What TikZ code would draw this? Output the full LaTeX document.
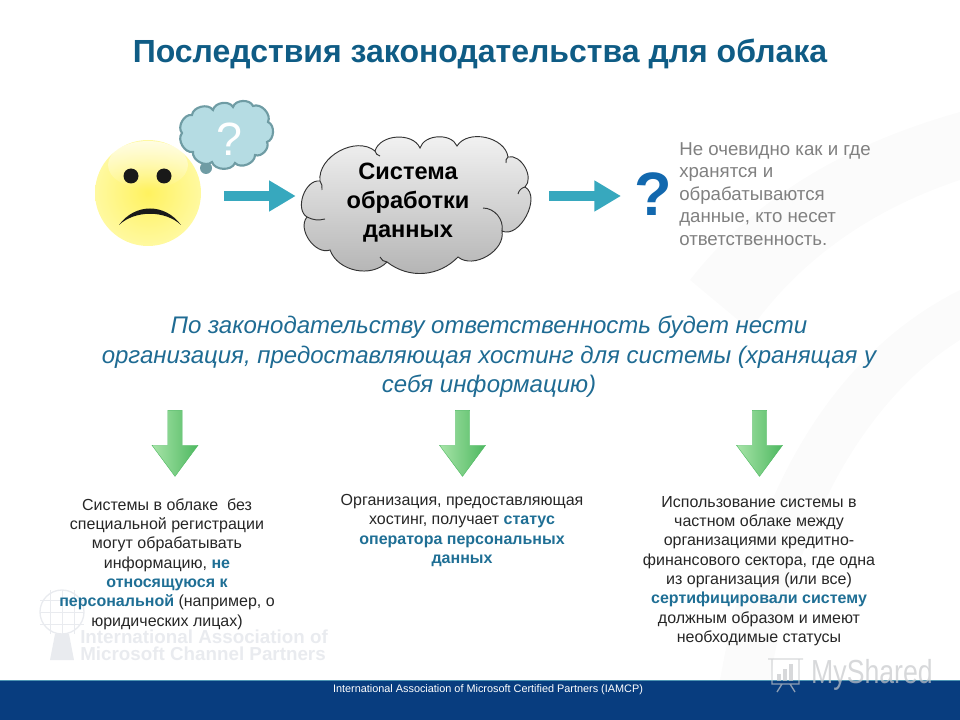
\documentclass[tikz,border=0pt]{standalone}
\usepackage{fontspec}
\setmainfont{Liberation Sans}
\usetikzlibrary{positioning, arrows.meta, shapes.arrows, fadings}

\definecolor{titleblue}{HTML}{0F5C85}
\definecolor{leadblue}{HTML}{1F6B93}
\definecolor{markblue}{HTML}{1F6F95}
\definecolor{footblue}{HTML}{083D7F}
\definecolor{tealarrow}{HTML}{37A8BE}
\definecolor{wmgray}{HTML}{E9EBEF}
\definecolor{facecore}{HTML}{FFF25F}
\definecolor{faceedge}{HTML}{FFF9A0}
\definecolor{bubblefill}{HTML}{B5DCE3}
\definecolor{bubbleline}{HTML}{6F9CA4}
\definecolor{greentop}{HTML}{A8E4A8}
\definecolor{greenlow}{HTML}{4DB860}
\definecolor{markq}{HTML}{1268AE}

\def\px{0.75pt}
\newcommand{\hl}[1]{\textbf{\textcolor{markblue}{#1}}}

\tikzset{
    coltext/.style={align=center, inner sep=0pt, text=black!85, font=\fontsize{12pt}{14.5pt}\selectfont},
    flowarrow/.style={tealarrow, line width=7.5pt, -{Triangle[length=20pt, width=22pt]}},
    greenarrow/.style={single arrow, rotate=-90, draw=greenlow, line width=0.3pt,
        left color=greentop, right color=greenlow,
        minimum height=66*\px, minimum width=46*\px, inner sep=5pt,
        single arrow head extend=15*\px, single arrow tip angle=73},
    cloudline/.style={draw=black!80, line width=0.7pt},
}

% faint marks behind the slide
\def\tikback{%
    \fill[black!1.5] (690,280) .. controls (760,190) and (860,140) .. (960,112)
        -- (960,180) .. controls (870,210) and (800,260) .. (750,330) -- cycle;
    \fill[black!1.5] (960,290) .. controls (860,340) and (760,450) .. (720,680)
        -- (770,680) .. controls (800,500) and (880,390) .. (960,340) -- cycle;

    % logo
    \draw[wmgray, line width=1pt] (62,612) circle (22);
    \foreach \a in {-12,0,12}
    {
        \draw[wmgray] (40,612+\a) -- (84,612+\a);
        \draw[wmgray] (62+\a,590) -- (62+\a,634);
    }
    \fill[wmgray] (55,634) -- (69,634) -- (74,660) -- (50,660) -- cycle;
    \node[inner sep=0pt, anchor=west, align=left, text=wmgray, font=\bfseries\fontsize{14.1pt}{12.6pt}\selectfont]
        (logotext) at (80,645) {International Association of\\Microsoft Channel Partners};
}

\begin{document}
\begin{tikzpicture}[x=0.75pt, y=-0.75pt]
    \useasboundingbox (0,0) rectangle (960,720);
    \tikback

    % footer
    \fill[footblue] (0,681) rectangle (960,720);
    \draw[blue!30!cyan!40!gray, line width=0.8pt] (0,680.5) -- (960,680.5);
    \node[text=white, inner sep=0pt, font=\fontsize{8.15pt}{10pt}\selectfont] (foot) at (488,690)
        {International Association of Microsoft Certified Partners (IAMCP)};

    % watermark
    \begin{scope}[opacity=0.7]
        \node[text=wmgray!85!black, inner sep=0pt, anchor=west, xscale=0.8, font=\fontsize{25pt}{25pt}\selectfont]
            (myshared) at (811,675) {MyShared};
        \draw[wmgray!85!black, line width=1pt] (768,659) -- (803,659) (772,659) -- (772,684) -- (799,684) -- (799,659)
            (782,684) -- (777,692) (790,684) -- (795,692);
        \foreach \x/\h in {779/7, 785/12, 791/17}
        {
            \draw[wmgray!85!black, line width=3pt] (\x,681) -- (\x,681-\h);
        }
    \end{scope}

    \node[inner sep=0pt, text=titleblue, font=\bfseries\fontsize{24pt}{28pt}\selectfont] (title) at (480,54)
        {Последствия законодательства для облака};

    % sad face
    \node[circle, minimum size=106*\px, inner sep=0pt, inner color=facecore, outer color=faceedge] (sadFace) at (148,193) {};
    \fill[white, fill opacity=0.7, path fading=south] (148,165) ellipse (40 and 24);
    \fill[black!90] (131,176) circle (7.5) (164,176) circle (7.5);
    \fill[black!90] (119,225) .. controls (135,203) and (165,203) .. (181,225)
        .. controls (165,210) and (135,210) .. cycle;

    % thought bubble
    \fill[bubbleline] (206,168) circle (6);
    \draw[draw=bubbleline, line width=1.6pt, fill=bubblefill]
        (192,115) to[bend left=70] (213,110) to[bend left=70] (233,107) to[bend left=70] (253,106)
        to[bend left=70] (268,122) to[bend left=70] (267,142) to[bend left=70] (255,155)
        to[bend left=70] (235,163) to[bend left=70] (212,162) to[bend left=70] (193,152)
        to[bend left=70] (182,133) to[bend left=70] cycle;
    \node[inner sep=0pt, text=white, font=\fontsize{35pt}{37pt}\selectfont] (bubbleq) at (229,139) {?};

    % processing cloud
    \shade[cloudline, top color=black!4, bottom color=black!30]
        (320,181) to[bend left=68] (375,151) to[bend left=70] (420,148) to[bend left=70] (457,146)
        to[bend left=70] (508,157) to[bend left=75] (525,187) to[bend left=88] (502,231)
        to[bend left=70] (458,257) to[bend left=42] (387,262) to[bend left=58] (330,250)
        to[bend left=75] (307,217) to[bend left=78] cycle;
    % inner curls of the cloud
    \draw[cloudline] (320,181) to[bend left=20] (322,190);
    \draw[cloudline] (307,217) to[bend right=20] (325,219);
    \draw[cloudline] (375,151) to[bend right=30] (380,156);
    \draw[cloudline] (508,157) to[bend right=30] (506,163);
    \draw[cloudline] (525,187) to[bend right=30] (518,194);
    \draw[cloudline] (483,208) to[bend left=50] (502,231);
    \draw[cloudline] (387,262) to[bend left=30] (380,257);

    \node[minimum width=235*\px, minimum height=122*\px, inner sep=0pt, align=center, text=black,
        font=\bfseries\fontsize{17.7pt}{21.8pt}\selectfont] (procCloud) at (408,203)
        {Система\\обработки\\данных};

    \node[inner sep=0pt, text=markq, font=\bfseries\fontsize{46pt}{50pt}\selectfont] (bigq) at (653,194) {?};

    \draw[flowarrow, shorten <=23*\px] ([yshift=-3*\px]sadFace.east) -- ([yshift=7*\px,xshift=5.5*\px]procCloud.west);
    \draw[flowarrow, shorten >=13*\px] ([yshift=7*\px,xshift=23.5*\px]procCloud.east) -- (bigq.west |- 0,196);

    \node[inner sep=0pt, anchor=west, align=left, text=black!50, font=\fontsize{14pt}{16.9pt}\selectfont] (unclear) at (679,194)
        {Не очевидно как и где\\хранятся и\\обрабатываются\\данные, кто несет\\ответственность.};

    \node[inner sep=0pt, align=center, text=leadblue, font=\itshape\fontsize{18pt}{22.2pt}\selectfont] (lead) at (489,357)
        {По законодательству ответственность будет нести\\
        организация, предоставляющая хостинг для системы (хранящая у\\
        себя информацию)};

    % green arrows
    \foreach \n/\x in {A/175, B/462.5, C/759.5}
    {
        \node[greenarrow] (down\n) at (\x,438.5) {};
    }

    \node[coltext] (colA) at (167,564)
        {Системы в облаке\ \ без\\специальной регистрации\\могут обрабатывать\\информацию, \hl{не}\\
        \hl{относящуюся к}\\\hl{персональной} (например, о\\юридических лицах)};
    \node[coltext] (colB) at (462,530.5)
        {Организация, предоставляющая\\хостинг, получает \hl{статус}\\\hl{оператора персональных}\\\hl{данных}};
    \node[coltext] (colC) at (759,571)
        {Использование системы в\\частном облаке между\\организациями кредитно-\\финансового сектора, где одна\\
        из организация (или все)\\\hl{сертифицировали систему}\\должным образом и имеют\\необходимые статусы};
\end{tikzpicture}
\end{document}
